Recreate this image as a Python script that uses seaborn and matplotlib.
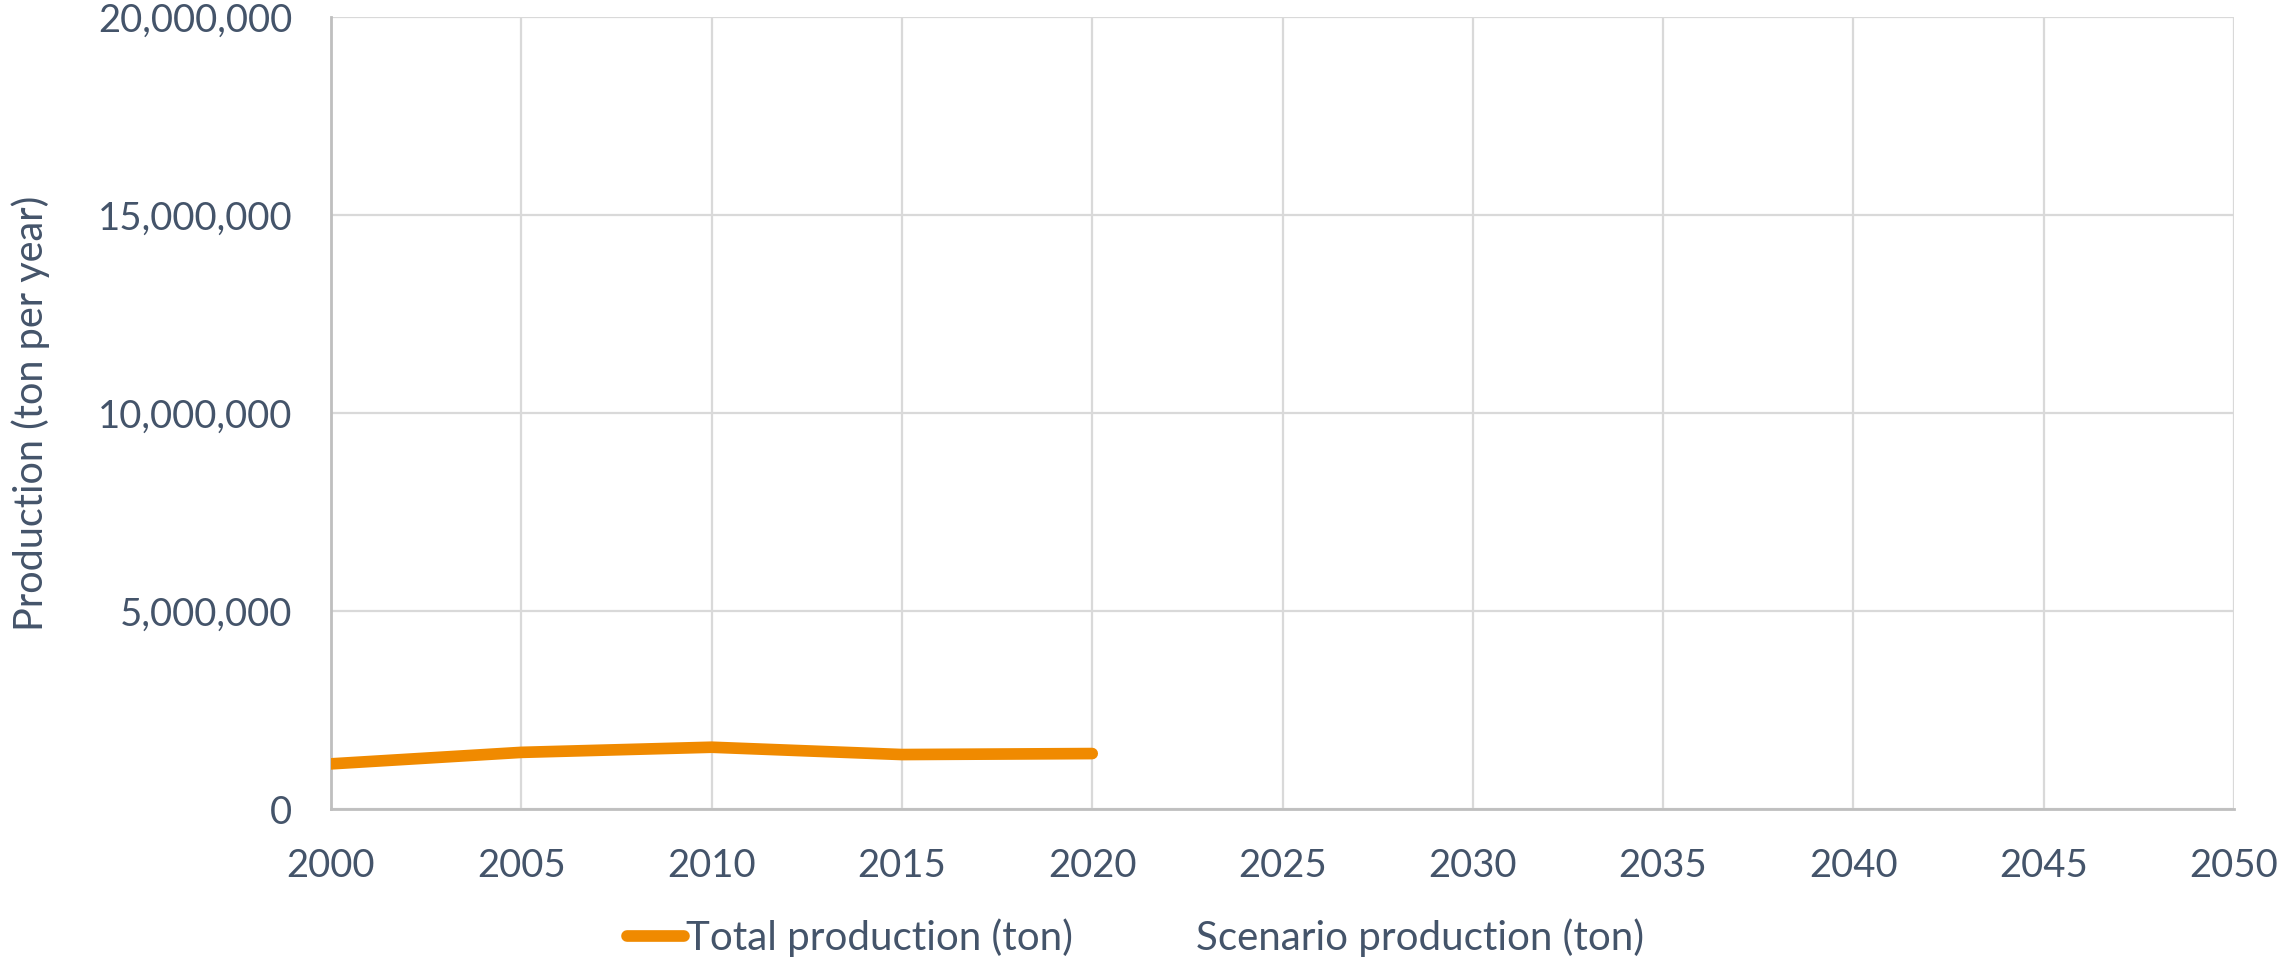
import matplotlib
matplotlib.use("Agg")
import matplotlib.pyplot as plt
import seaborn as sns
import pandas as pd
import numpy as np
from matplotlib.ticker import FuncFormatter

years = [2000, 2005, 2010, 2015, 2020]
total_production = [1140000, 1430000, 1560000, 1375000, 1400000]
scenario_years = []
scenario_production = []
x_ticks = [2000, 2005, 2010, 2015, 2020, 2025, 2030, 2035, 2040, 2045, 2050]
y_ticks = [0, 5000000, 10000000, 15000000, 20000000]

sns.set_theme(style="white")
plt.rcParams['font.family'] = ['Lato', 'DejaVu Sans']
TXT = "#44546A"
ORANGE = "#F08A00"

fig = plt.figure(figsize=(22.8, 9.61), dpi=100)
ax = fig.add_axes([331/2280, 1-809/961, (2234-331)/2280, (809-17)/961])

df_total = pd.DataFrame({"year": years, "value": total_production})
df_scen = pd.DataFrame({"year": pd.Series(scenario_years, dtype=float),
                        "value": pd.Series(scenario_production, dtype=float)})

sns.lineplot(data=df_total, x="year", y="value", ax=ax, color=ORANGE,
             linewidth=8.4, solid_capstyle="round", solid_joinstyle="round",
             label="Total production (ton)", zorder=3)
ax.plot(df_scen["year"], df_scen["value"], color="none", linewidth=8.4,
        label="Scenario production (ton)")

ax.set_xlim(2000, 2050)
ax.set_ylim(0, 20000000)
ax.set_xticks(x_ticks)
ax.set_yticks(y_ticks)
ax.yaxis.set_major_formatter(FuncFormatter(lambda v, p: f"{int(v):,}"))
ax.grid(True, color="#D9D9D9", linewidth=1.6)
ax.set_axisbelow(True)
for s in ["top", "right"]:
    ax.spines[s].set_visible(False)
for s in ["left", "bottom"]:
    ax.spines[s].set_color("#BFBFBF")
    ax.spines[s].set_linewidth(2)
ax.tick_params(axis="both", length=0, labelsize=27.5, colors=TXT)
ax.tick_params(axis="x", pad=28)
ax.tick_params(axis="y", pad=28)
ax.set_xlabel("")
ax.set_ylabel("Production (ton per year)", fontsize=28.5, color=TXT, labelpad=34)

leg = ax.get_legend()
if leg:
    leg.remove()
handles, labels = ax.get_legend_handles_labels()
fig.legend(handles, labels, loc="center", bbox_to_anchor=(0.498, 1-938/961),
           ncol=2, frameon=False, fontsize=29, handlelength=1.4,
           handletextpad=0.05, columnspacing=1.6, labelcolor=TXT)

fig.savefig("out.png", dpi=100)
